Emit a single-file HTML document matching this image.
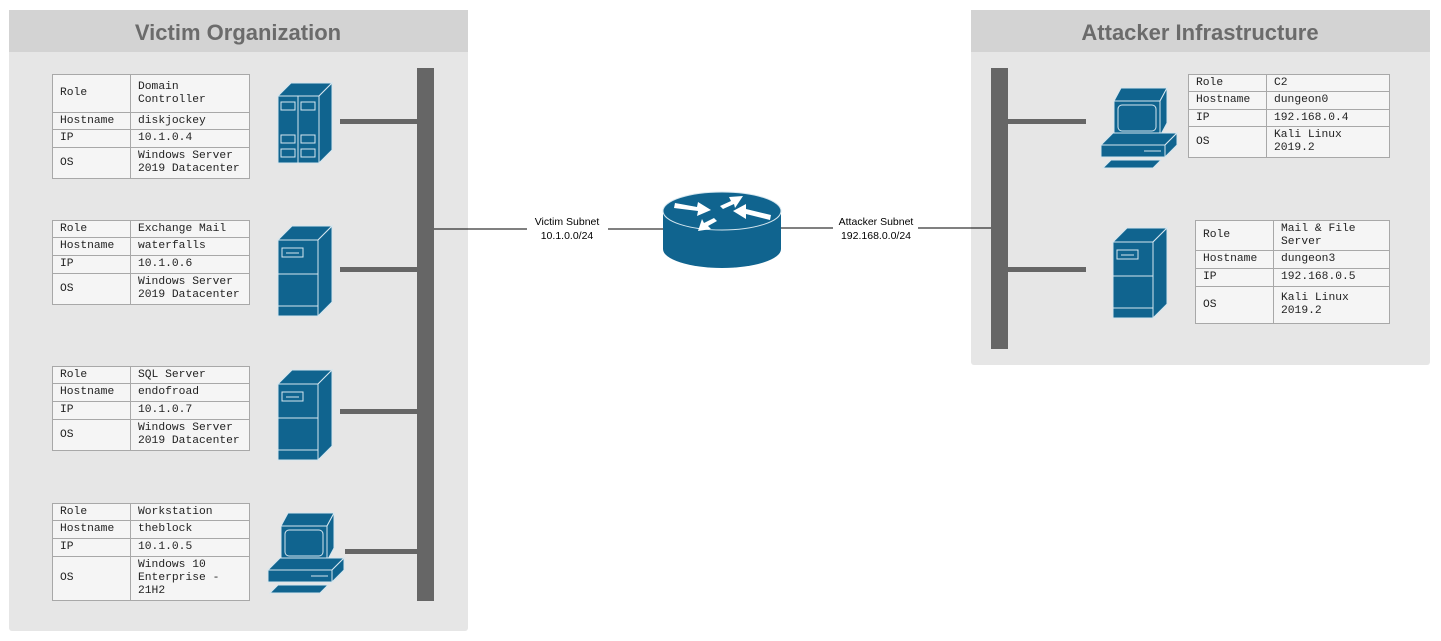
<!DOCTYPE html>
<html><head><meta charset="utf-8"><style>
body{margin:0;width:1441px;height:641px;background:#fff;position:relative;overflow:hidden;font-family:"Liberation Sans",sans-serif}
.t{position:absolute;border-collapse:collapse;font-family:"Liberation Mono",monospace;font-size:11.3px;color:#222;background:#f5f5f5}
.t td{border:1px solid #a8a8a8;padding:0 0 0 7px;line-height:13px;vertical-align:middle}
.t td:first-child{width:70px}
svg{position:absolute;left:0;top:0}
</style></head><body>
<svg width="1441" height="641">
<defs>
<g id="tower" fill="#10648f" stroke="#d5e6ef" stroke-width="1">
<path d="M0 14 L14 0 L54 0 L40 14 Z"/><path d="M40 14 L54 0 L54 76 L40 90 Z"/>
<rect x="0" y="14" width="40" height="76"/><line x1="0" y1="48" x2="40" y2="48"/><line x1="0" y1="80" x2="40" y2="80"/>
<rect x="4" y="22" width="21" height="9"/><line x1="8" y1="27" x2="21" y2="27"/>
</g>
<g id="pc" fill="#10648f" stroke="#d5e6ef" stroke-width="1">
<path d="M13 13 L20 0 L66 0 L59 13 Z"/><path d="M59 13 L66 0 L66 35 L59 48 Z"/>
<rect x="13" y="13" width="46" height="35"/><rect x="17" y="17" width="38" height="26" rx="4"/>
<path d="M0 57 L12 45 L76 45 L64 57 Z"/><path d="M64 57 L76 45 L76 57 L64 69 Z"/><rect x="0" y="57" width="64" height="12"/>
<line x1="43" y1="63" x2="60" y2="63"/>
<path d="M2 80 L10 72 L60 72 L52 80 Z"/>
</g>
</defs>
<rect x="9" y="10" width="459" height="621" fill="#e6e6e6" rx="3"/>
<rect x="9" y="10" width="459" height="42" fill="#d3d3d3"/>
<text x="238" y="40" text-anchor="middle" font-size="22" font-weight="bold" fill="#6b6b6b">Victim Organization</text>
<rect x="971" y="10" width="459" height="355" fill="#e6e6e6" rx="3"/>
<rect x="971" y="10" width="459" height="42" fill="#d3d3d3"/>
<text x="1200" y="40" text-anchor="middle" font-size="22" font-weight="bold" fill="#6b6b6b">Attacker Infrastructure</text>
<rect x="417" y="68" width="17" height="533" fill="#666"/>
<rect x="991" y="68" width="17" height="281" fill="#666"/>
<g fill="#666"><rect x="340" y="119" width="77" height="5"/><rect x="340" y="267" width="77" height="5"/><rect x="340" y="409" width="77" height="5"/><rect x="345" y="549" width="89" height="5"/>
<rect x="1008" y="119" width="78" height="5"/><rect x="1008" y="267" width="78" height="5"/></g>
<g fill="#10648f" stroke="#d5e6ef" stroke-width="1">
<path d="M278 96 L291 83 L332 83 L319 96 Z"/><path d="M319 96 L332 83 L332 150 L319 163 Z"/>
<rect x="278" y="96" width="20" height="67"/><rect x="298" y="96" width="21" height="67"/>
<rect x="281" y="102" width="14" height="8"/><rect x="301" y="102" width="14" height="8"/>
<rect x="281" y="135" width="14" height="8"/><rect x="301" y="135" width="14" height="8"/>
<rect x="281" y="149" width="14" height="8"/><rect x="301" y="149" width="14" height="8"/>
</g>
<use href="#tower" x="278" y="226"/><use href="#tower" x="278" y="370"/><use href="#tower" x="1113" y="228"/>
<use href="#pc" x="268" y="513"/><use href="#pc" x="1101" y="88"/>
<line x1="434" y1="229" x2="527" y2="229" stroke="#000"/><line x1="608" y1="229" x2="663" y2="229" stroke="#000"/>
<line x1="781" y1="228" x2="833" y2="228" stroke="#000"/><line x1="918" y1="228" x2="991" y2="228" stroke="#000"/>
<text x="567" y="225" text-anchor="middle" font-size="10.5">Victim Subnet</text>
<text x="567" y="239" text-anchor="middle" font-size="10.5">10.1.0.0/24</text>
<text x="876" y="225" text-anchor="middle" font-size="10.5">Attacker Subnet</text>
<text x="876" y="239" text-anchor="middle" font-size="10.5">192.168.0.0/24</text>
<path d="M663 211 L663 249 A59 19 0 0 0 781 249 L781 211 Z" fill="#10648f"/>
<ellipse cx="722" cy="211" rx="59" ry="19" fill="#10648f" stroke="#d5e6ef"/>
<g fill="#fff">
<path d="M675 203 L697 207 L698 202 L711 210 L697 216 L698 211 L674 208 Z"/>
<path d="M743 196 L729 197 L731 201 L720 206 L723 209 L734 204 L735 208 Z"/>
<path d="M770 220 L746 214 L746 219 L733 211 L746 204 L746 209 L771 215 Z"/>
<path d="M698 231 L711 229 L708 226 L717 221 L714 218 L704 223 L702 219 Z"/>
</g>
</svg>
<table class="t" style="left:52px;top:74px;width:198px"><tr style="height:38px"><td>Role</td><td>Domain<br>Controller</td></tr><tr style="height:17px"><td>Hostname</td><td>diskjockey</td></tr><tr style="height:18px"><td>IP</td><td>10.1.0.4</td></tr><tr style="height:31px"><td>OS</td><td>Windows Server<br>2019 Datacenter</td></tr></table>
<table class="t" style="left:52px;top:220px;width:198px"><tr style="height:17px"><td>Role</td><td>Exchange Mail</td></tr><tr style="height:18px"><td>Hostname</td><td>waterfalls</td></tr><tr style="height:18px"><td>IP</td><td>10.1.0.6</td></tr><tr style="height:31px"><td>OS</td><td>Windows Server<br>2019 Datacenter</td></tr></table>
<table class="t" style="left:52px;top:366px;width:198px"><tr style="height:17px"><td>Role</td><td>SQL Server</td></tr><tr style="height:18px"><td>Hostname</td><td>endofroad</td></tr><tr style="height:18px"><td>IP</td><td>10.1.0.7</td></tr><tr style="height:31px"><td>OS</td><td>Windows Server<br>2019 Datacenter</td></tr></table>
<table class="t" style="left:52px;top:503px;width:198px"><tr style="height:17px"><td>Role</td><td>Workstation</td></tr><tr style="height:18px"><td>Hostname</td><td>theblock</td></tr><tr style="height:18px"><td>IP</td><td>10.1.0.5</td></tr><tr style="height:44px"><td>OS</td><td>Windows 10<br>Enterprise -<br>21H2</td></tr></table>
<table class="t" style="left:1188px;top:74px;width:202px"><tr style="height:17px"><td>Role</td><td>C2</td></tr><tr style="height:18px"><td>Hostname</td><td>dungeon0</td></tr><tr style="height:17px"><td>IP</td><td>192.168.0.4</td></tr><tr style="height:31px"><td>OS</td><td>Kali Linux<br>2019.2</td></tr></table>
<table class="t" style="left:1195px;top:220px;width:195px"><tr style="height:30px"><td>Role</td><td>Mail &amp; File<br>Server</td></tr><tr style="height:18px"><td>Hostname</td><td>dungeon3</td></tr><tr style="height:18px"><td>IP</td><td>192.168.0.5</td></tr><tr style="height:37px"><td>OS</td><td>Kali Linux<br>2019.2</td></tr></table>
</body></html>
